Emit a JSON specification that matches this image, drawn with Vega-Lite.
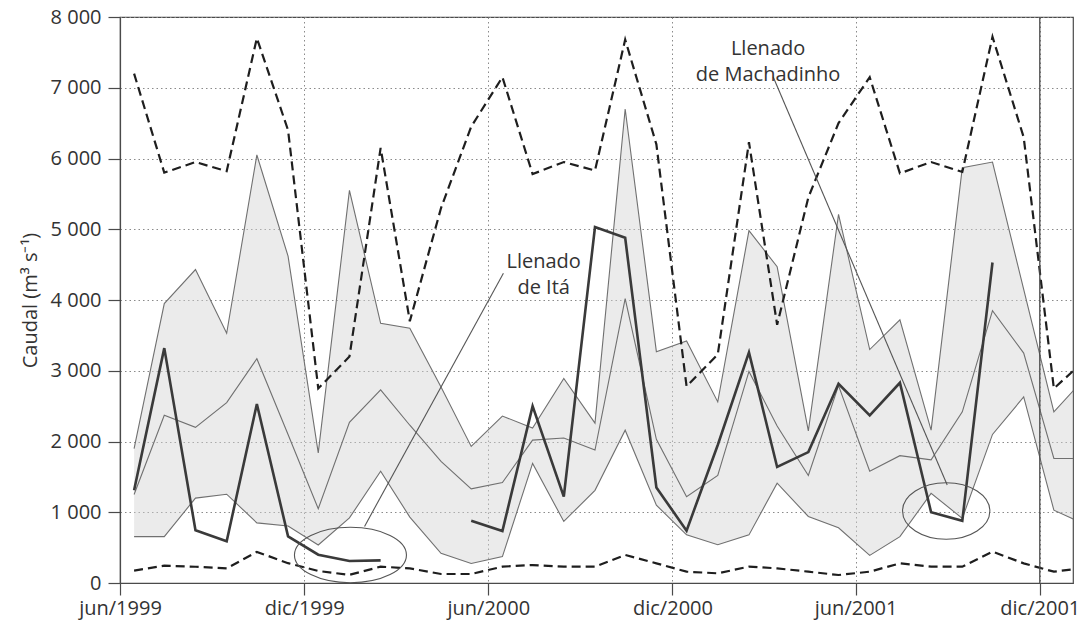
{
  "$schema": "https://vega.github.io/schema/vega-lite/v6.json",
  "width": 953,
  "height": 566,
  "autosize": {"type": "none"},
  "padding": {"left": 120, "top": 17, "right": 17, "bottom": 46},
  "background": "white",
  "datasets": {
    "mensual": [
      {"fecha": "1999-06-15", "max": 7200, "min": 175, "p_sup": 1900, "mediana": 1250, "p_inf": 655},
      {"fecha": "1999-07-15", "max": 5800, "min": 245, "p_sup": 3950, "mediana": 2370, "p_inf": 655},
      {"fecha": "1999-08-15", "max": 5950, "min": 230, "p_sup": 4430, "mediana": 2200, "p_inf": 1200},
      {"fecha": "1999-09-15", "max": 5820, "min": 207, "p_sup": 3530, "mediana": 2550, "p_inf": 1255},
      {"fecha": "1999-10-15", "max": 7700, "min": 440, "p_sup": 6050, "mediana": 3170, "p_inf": 850},
      {"fecha": "1999-11-15", "max": 6400, "min": 280, "p_sup": 4620, "mediana": 2100, "p_inf": 806},
      {"fecha": "1999-12-15", "max": 2750, "min": 170, "p_sup": 1840, "mediana": 1050, "p_inf": 537},
      {"fecha": "2000-01-15", "max": 3200, "min": 115, "p_sup": 5550, "mediana": 2270, "p_inf": 920},
      {"fecha": "2000-02-15", "max": 6150, "min": 231, "p_sup": 3670, "mediana": 2730, "p_inf": 1580},
      {"fecha": "2000-03-15", "max": 3700, "min": 207, "p_sup": 3600, "mediana": 2230, "p_inf": 932},
      {"fecha": "2000-04-15", "max": 5300, "min": 127, "p_sup": 2770, "mediana": 1720, "p_inf": 420},
      {"fecha": "2000-05-15", "max": 6450, "min": 127, "p_sup": 1930, "mediana": 1330, "p_inf": 275},
      {"fecha": "2000-06-15", "max": 7150, "min": 231, "p_sup": 2360, "mediana": 1420, "p_inf": 373},
      {"fecha": "2000-07-15", "max": 5780, "min": 254, "p_sup": 2190, "mediana": 2020, "p_inf": 1690},
      {"fecha": "2000-08-15", "max": 5950, "min": 231, "p_sup": 2890, "mediana": 2050, "p_inf": 870},
      {"fecha": "2000-09-15", "max": 5830, "min": 231, "p_sup": 2260, "mediana": 1880, "p_inf": 1310},
      {"fecha": "2000-10-15", "max": 7680, "min": 396, "p_sup": 6700, "mediana": 4020, "p_inf": 2160},
      {"fecha": "2000-11-15", "max": 6200, "min": 278, "p_sup": 3270, "mediana": 2030, "p_inf": 1100},
      {"fecha": "2000-12-15", "max": 2780, "min": 160, "p_sup": 3420, "mediana": 1220, "p_inf": 680},
      {"fecha": "2001-01-15", "max": 3230, "min": 137, "p_sup": 2560, "mediana": 1520, "p_inf": 540},
      {"fecha": "2001-02-15", "max": 6230, "min": 231, "p_sup": 4980, "mediana": 2990, "p_inf": 680},
      {"fecha": "2001-03-15", "max": 3650, "min": 207, "p_sup": 4470, "mediana": 2220, "p_inf": 1410},
      {"fecha": "2001-04-15", "max": 5450, "min": 160, "p_sup": 2150, "mediana": 1520, "p_inf": 940},
      {"fecha": "2001-05-15", "max": 6500, "min": 113, "p_sup": 5210, "mediana": 2790, "p_inf": 780},
      {"fecha": "2001-06-15", "max": 7150, "min": 160, "p_sup": 3300, "mediana": 1580, "p_inf": 390},
      {"fecha": "2001-07-15", "max": 5790, "min": 278, "p_sup": 3720, "mediana": 1800, "p_inf": 655},
      {"fecha": "2001-08-15", "max": 5950, "min": 231, "p_sup": 2160, "mediana": 1740, "p_inf": 1267},
      {"fecha": "2001-09-15", "max": 5810, "min": 231, "p_sup": 5870, "mediana": 2420, "p_inf": 914},
      {"fecha": "2001-10-15", "max": 7720, "min": 443, "p_sup": 5950, "mediana": 3850, "p_inf": 2100},
      {"fecha": "2001-11-15", "max": 6300, "min": 278, "p_sup": 4150, "mediana": 3250, "p_inf": 2630},
      {"fecha": "2001-12-15", "max": 2750, "min": 160, "p_sup": 2420, "mediana": 1760, "p_inf": 1030},
      {"fecha": "2002-01-15", "max": 3150, "min": 215, "p_sup": 2900, "mediana": 1760, "p_inf": 830}
    ],
    "observado": [
      {"fecha": "1999-06-15", "caudal": 1310, "tramo": "1"},
      {"fecha": "1999-07-15", "caudal": 3320, "tramo": "1"},
      {"fecha": "1999-08-15", "caudal": 745, "tramo": "1"},
      {"fecha": "1999-09-15", "caudal": 590, "tramo": "1"},
      {"fecha": "1999-10-15", "caudal": 2530, "tramo": "1"},
      {"fecha": "1999-11-15", "caudal": 660, "tramo": "1"},
      {"fecha": "1999-12-15", "caudal": 400, "tramo": "1"},
      {"fecha": "2000-01-15", "caudal": 310, "tramo": "1"},
      {"fecha": "2000-02-15", "caudal": 320, "tramo": "1"},
      {"fecha": "2000-05-15", "caudal": 880, "tramo": "2"},
      {"fecha": "2000-06-15", "caudal": 735, "tramo": "2"},
      {"fecha": "2000-07-15", "caudal": 2500, "tramo": "2"},
      {"fecha": "2000-08-15", "caudal": 1220, "tramo": "2"},
      {"fecha": "2000-09-15", "caudal": 5030, "tramo": "2"},
      {"fecha": "2000-10-15", "caudal": 4880, "tramo": "2"},
      {"fecha": "2000-11-15", "caudal": 1350, "tramo": "2"},
      {"fecha": "2000-12-15", "caudal": 740, "tramo": "2"},
      {"fecha": "2001-01-15", "caudal": 1950, "tramo": "2"},
      {"fecha": "2001-02-15", "caudal": 3260, "tramo": "2"},
      {"fecha": "2001-03-15", "caudal": 1640, "tramo": "2"},
      {"fecha": "2001-04-15", "caudal": 1850, "tramo": "2"},
      {"fecha": "2001-05-15", "caudal": 2815, "tramo": "2"},
      {"fecha": "2001-06-15", "caudal": 2370, "tramo": "2"},
      {"fecha": "2001-07-15", "caudal": 2830, "tramo": "2"},
      {"fecha": "2001-08-15", "caudal": 1000, "tramo": "2"},
      {"fecha": "2001-09-15", "caudal": 880, "tramo": "2"},
      {"fecha": "2001-10-15", "caudal": 4530, "tramo": "2"}
    ],
    "marca": [{"fecha": "2001-12-01"}],
    "punteros": [
      {"fecha": "2000-01-30", "caudal": 800, "nota": "Itá"},
      {"fecha": "2000-06-16", "caudal": 4377, "nota": "Itá"},
      {"fecha": "2001-03-11", "caudal": 7156, "nota": "Machadinho"},
      {"fecha": "2001-08-31", "caudal": 1385, "nota": "Machadinho"}
    ],
    "elipse_ita": [{"fecha": "2000-01-16", "caudal": 396}],
    "elipse_machadinho": [{"fecha": "2001-08-30", "caudal": 1018}],
    "textos": [
      {"fecha": "2000-07-26", "caudal": 4544, "texto": "Llenado\nde Itá"},
      {"fecha": "2001-03-06", "caudal": 7548, "texto": "Llenado\nde Machadinho"}
    ]
  },
  "encoding": {
    "x": {
      "field": "fecha",
      "type": "temporal",
      "title": null,
      "scale": {
        "type": "utc",
        "domain": [
          {"year": 1999, "month": 6, "date": 1, "utc": true},
          {"year": 2002, "month": 1, "date": 3, "utc": true}
        ]
      },
      "axis": {
        "values": [
          {"year": 1999, "month": 6, "date": 1, "utc": true},
          {"year": 1999, "month": 12, "date": 1, "utc": true},
          {"year": 2000, "month": 6, "date": 1, "utc": true},
          {"year": 2000, "month": 12, "date": 1, "utc": true},
          {"year": 2001, "month": 6, "date": 1, "utc": true},
          {"year": 2001, "month": 12, "date": 1, "utc": true}
        ],
        "labelExpr": "['ene','feb','mar','abr','may','jun','jul','ago','sep','oct','nov','dic'][utcmonth(datum.value)] + '/' + utcyear(datum.value)",
        "labelFlush": false,
        "labelPadding": 3,
        "grid": true
      }
    }
  },
  "layer": [
    {
      "data": {"name": "mensual"},
      "mark": {"type": "area", "fill": "#d2d2d2", "opacity": 0.45, "clip": true},
      "encoding": {
        "y": {
          "field": "p_inf",
          "type": "quantitative",
          "title": "Caudal (m³ s⁻¹)",
          "scale": {"domain": [0, 8000], "nice": false},
          "axis": {
            "values": [0, 1000, 2000, 3000, 4000, 5000, 6000, 7000, 8000],
            "labelExpr": "replace(format(datum.value, ','), ',', ' ')",
            "labelPadding": 7,
            "titlePadding": 10,
            "grid": true
          }
        },
        "y2": {"field": "p_sup"}
      }
    },
    {
      "data": {"name": "mensual"},
      "mark": {"type": "line", "color": "#707070", "strokeWidth": 1.1, "clip": true},
      "encoding": {"y": {"field": "p_sup", "type": "quantitative", "title": "Caudal (m³ s⁻¹)", "axis": {"values": [0, 1000, 2000, 3000, 4000, 5000, 6000, 7000, 8000], "labelExpr": "replace(format(datum.value, ','), ',', ' ')", "labelPadding": 7, "titlePadding": 10, "grid": true}}}
    },
    {
      "data": {"name": "mensual"},
      "mark": {"type": "line", "color": "#707070", "strokeWidth": 1.1, "clip": true},
      "encoding": {"y": {"field": "mediana", "type": "quantitative", "title": "Caudal (m³ s⁻¹)", "axis": {"values": [0, 1000, 2000, 3000, 4000, 5000, 6000, 7000, 8000], "labelExpr": "replace(format(datum.value, ','), ',', ' ')", "labelPadding": 7, "titlePadding": 10, "grid": true}}}
    },
    {
      "data": {"name": "mensual"},
      "mark": {"type": "line", "color": "#707070", "strokeWidth": 1.1, "clip": true},
      "encoding": {"y": {"field": "p_inf", "type": "quantitative", "title": "Caudal (m³ s⁻¹)", "axis": {"values": [0, 1000, 2000, 3000, 4000, 5000, 6000, 7000, 8000], "labelExpr": "replace(format(datum.value, ','), ',', ' ')", "labelPadding": 7, "titlePadding": 10, "grid": true}}}
    },
    {
      "data": {"name": "mensual"},
      "mark": {"type": "line", "color": "#1e1e1e", "strokeWidth": 2.2, "strokeDash": [9, 5], "clip": true},
      "encoding": {"y": {"field": "max", "type": "quantitative", "title": "Caudal (m³ s⁻¹)", "axis": {"values": [0, 1000, 2000, 3000, 4000, 5000, 6000, 7000, 8000], "labelExpr": "replace(format(datum.value, ','), ',', ' ')", "labelPadding": 7, "titlePadding": 10, "grid": true}}}
    },
    {
      "data": {"name": "mensual"},
      "mark": {"type": "line", "color": "#1e1e1e", "strokeWidth": 2.2, "strokeDash": [9, 5], "clip": true},
      "encoding": {"y": {"field": "min", "type": "quantitative", "title": "Caudal (m³ s⁻¹)", "axis": {"values": [0, 1000, 2000, 3000, 4000, 5000, 6000, 7000, 8000], "labelExpr": "replace(format(datum.value, ','), ',', ' ')", "labelPadding": 7, "titlePadding": 10, "grid": true}}}
    },
    {
      "data": {"name": "observado"},
      "mark": {"type": "line", "color": "#3a3a3a", "strokeWidth": 2.6, "clip": true},
      "encoding": {
        "y": {"field": "caudal", "type": "quantitative", "title": "Caudal (m³ s⁻¹)", "axis": {"values": [0, 1000, 2000, 3000, 4000, 5000, 6000, 7000, 8000], "labelExpr": "replace(format(datum.value, ','), ',', ' ')", "labelPadding": 7, "titlePadding": 10, "grid": true}},
        "detail": {"field": "tramo", "type": "nominal"}
      }
    },
    {
      "data": {"name": "marca"},
      "mark": {"type": "rule", "color": "#4a4a4a", "strokeWidth": 1.3},
      "encoding": {}
    },
    {
      "data": {"name": "punteros"},
      "mark": {"type": "line", "color": "#555555", "strokeWidth": 1.1},
      "encoding": {
        "y": {"field": "caudal", "type": "quantitative", "title": "Caudal (m³ s⁻¹)", "axis": {"values": [0, 1000, 2000, 3000, 4000, 5000, 6000, 7000, 8000], "labelExpr": "replace(format(datum.value, ','), ',', ' ')", "labelPadding": 7, "titlePadding": 10, "grid": true}},
        "detail": {"field": "nota", "type": "nominal"}
      }
    },
    {
      "data": {"name": "elipse_ita"},
      "mark": {
        "type": "point",
        "shape": "M-1,0A1,0.495,0,1,1,1,0A1,0.495,0,1,1,-1,0Z",
        "size": 12544,
        "filled": false,
        "color": "#555555",
        "strokeWidth": 1.1,
        "opacity": 1
      },
      "encoding": {"y": {"field": "caudal", "type": "quantitative", "title": "Caudal (m³ s⁻¹)", "axis": {"values": [0, 1000, 2000, 3000, 4000, 5000, 6000, 7000, 8000], "labelExpr": "replace(format(datum.value, ','), ',', ' ')", "labelPadding": 7, "titlePadding": 10, "grid": true}}}
    },
    {
      "data": {"name": "elipse_machadinho"},
      "mark": {
        "type": "point",
        "shape": "M-1,0A1,0.648,0,1,1,1,0A1,0.648,0,1,1,-1,0Z",
        "size": 7621,
        "filled": false,
        "color": "#555555",
        "strokeWidth": 1.1,
        "opacity": 1
      },
      "encoding": {"y": {"field": "caudal", "type": "quantitative", "title": "Caudal (m³ s⁻¹)", "axis": {"values": [0, 1000, 2000, 3000, 4000, 5000, 6000, 7000, 8000], "labelExpr": "replace(format(datum.value, ','), ',', ' ')", "labelPadding": 7, "titlePadding": 10, "grid": true}}}
    },
    {
      "data": {"name": "textos"},
      "mark": {
        "type": "text",
        "align": "center",
        "baseline": "middle",
        "lineBreak": "\n",
        "lineHeight": 26,
        "fontSize": 20,
        "font": "Open Sans",
        "color": "#333333"
      },
      "encoding": {
        "y": {"field": "caudal", "type": "quantitative", "title": "Caudal (m³ s⁻¹)", "axis": {"values": [0, 1000, 2000, 3000, 4000, 5000, 6000, 7000, 8000], "labelExpr": "replace(format(datum.value, ','), ',', ' ')", "labelPadding": 7, "titlePadding": 10, "grid": true}},
        "text": {"field": "texto", "type": "nominal"}
      }
    }
  ],
  "config": {
    "font": "Open Sans",
    "view": {"stroke": "#4a4a4a", "strokeWidth": 1.2},
    "axis": {
      "domainColor": "#4a4a4a",
      "domainWidth": 1.2,
      "tickColor": "#4a4a4a",
      "tickWidth": 1.2,
      "tickSize": 12,
      "labelFont": "Open Sans",
      "labelFontSize": 20,
      "labelColor": "#333333",
      "gridColor": "#8a8a8a",
      "gridDash": [1.5, 3],
      "gridWidth": 1,
      "titleFont": "Open Sans",
      "titleFontSize": 20,
      "titleFontWeight": "normal",
      "titleColor": "#333333"
    }
  }
}
